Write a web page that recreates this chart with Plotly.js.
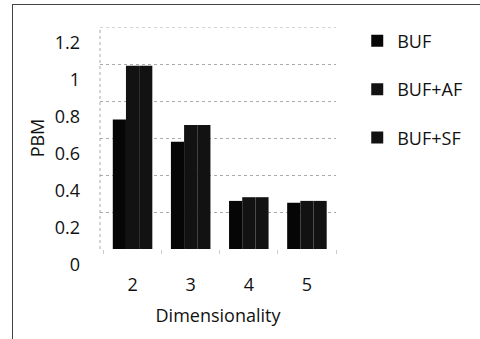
<!DOCTYPE html>
<html><head><meta charset="utf-8">
<script src="https://cdn.plot.ly/plotly-3.0.1.min.js"></script>
<style>
html,body{margin:0;padding:0;background:#fff;}
#chart{position:absolute;left:0;top:0;width:480px;height:339px;}
#frame{position:absolute;left:12px;top:4px;width:470px;height:340px;border-left:1px solid #444;border-top:1px solid #444;pointer-events:none;}
</style></head>
<body>
<div id="chart"></div>
<div id="frame"></div>
<script>
const categories = ['2', '3', '4', '5'];
const seriesNames = ['BUF', 'BUF+AF', 'BUF+SF'];
const buf   = [0.70, 0.58, 0.26, 0.25];
const bufAF = [0.99, 0.67, 0.28, 0.26];
const bufSF = [0.99, 0.67, 0.28, 0.26];
const yTicks = [0, 0.2, 0.4, 0.6, 0.8, 1, 1.2];
const yTickText = ['0', '0.2', '0.4', '0.6', '0.8', '1', '1.2'];

const colors = ['#060606', '#121212', '#121212'];
const values = [buf, bufAF, bufSF];
const traces = values.map((v, i) => ({
  type: 'bar', x: categories, y: v, name: seriesNames[i], legendgroup: 'g' + i,
  marker: {color: colors[i], line: {width: 0}}
}));

const font = {family: '"Open Sans", "Noto Sans", sans-serif', color: '#111'};
Plotly.newPlot('chart', traces, {
  width: 480, height: 339,
  margin: {l: 100, r: 140, t: 27, b: 90},
  paper_bgcolor: '#fff', plot_bgcolor: '#fff',
  barmode: 'group', bargap: 0.32, bargroupgap: 0,
  showlegend: true,
  legend: {x: 1.09, y: 1.02, xanchor: 'left', yanchor: 'top',
    font: Object.assign({size: 18}, font), tracegroupgap: 22, itemwidth: 30,
    traceorder: 'grouped'},
  xaxis: {type: 'category', range: [-0.56, 3.5], tickfont: Object.assign({size: 18}, font),
    ticks: 'outside', ticklen: 4, tickcolor: '#ccc', tickson: 'boundaries',
    ticklabelstandoff: 23,
    showline: false, showgrid: false,
    title: {text: 'Dimensionality', font: Object.assign({size: 18}, font), standoff: 14}},
  yaxis: {range: [0, 1.2], tickvals: yTicks, ticktext: yTickText,
    tickfont: Object.assign({size: 18}, font), ticklabelshift: 16,
    showgrid: true, gridcolor: '#aaa', griddash: 'dot', gridwidth: 1,
    zeroline: false, showline: false, ticks: '', ticklabelstandoff: 19,
    title: {text: 'PBM', font: Object.assign({size: 18}, font), standoff: 5}},
  shapes: [
    {type: 'line', xref: 'paper', yref: 'paper', x0: 0, x1: 0, y0: 0, y1: 1,
      line: {color: '#aaa', width: 1, dash: 'dot'}},
    {type: 'line', xref: 'paper', yref: 'y', x0: 0, x1: 1, y0: 1.2, y1: 1.2,
      line: {color: '#aaa', width: 1, dash: 'dot'}}
  ]
}, {displayModeBar: false, staticPlot: true});
</script>
</body></html>
